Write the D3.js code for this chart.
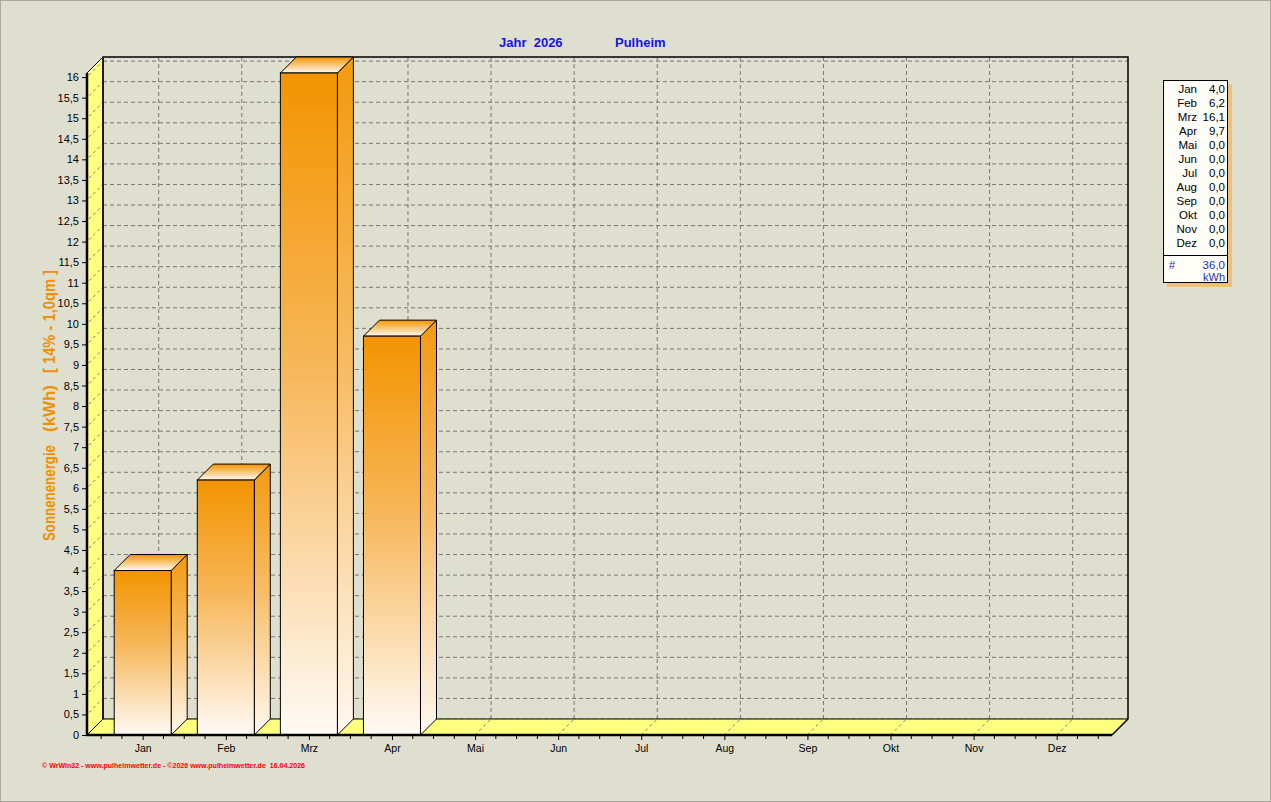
<!DOCTYPE html>
<html><head><meta charset="utf-8">
<script src="https://cdn.jsdelivr.net/npm/d3@7"></script>
<style>
html,body{margin:0;padding:0;background:#dfdfd0;}
svg{display:block;font-family:"Liberation Sans",Arial,sans-serif;}
</style></head>
<body>
<svg id="chart" width="1271" height="802"></svg>
<script>
// ---- data ----
const months = ["Jan","Feb","Mrz","Apr","Mai","Jun","Jul","Aug","Sep","Okt","Nov","Dez"];
const values = [4.0, 6.2, 16.1, 9.7, 0, 0, 0, 0, 0, 0, 0, 0];
const totalValue = 36.0;
const yTickValues = [0,0.5,1,1.5,2,2.5,3,3.5,4,4.5,5,5.5,6,6.5,7,7.5,8,8.5,9,9.5,10,10.5,11,11.5,12,12.5,13,13.5,14,14.5,15,15.5,16];
const titleYear = "Jahr  2026";
const titleCity = "Pulheim";
const yTitleParts = ["Sonnenenergie", "(kWh)", "[ 14% - 1,0qm ]"];
const unitLabel = "kWh";
const footerText = "\u00A9 WrWin32 - www.pulheimwetter.de - \u00A92026 www.pulheimwetter.de  16.04.2026";

// ---- layout ----
const svg = d3.select("#chart");
const W = 1271, H = 802;
const X0 = 87, X1 = 1112, D = 16;
const x = d3.scalePoint().domain(months).range([142.7, 1056.7]);
const y = d3.scaleLinear().domain([0, 16.1]).range([735, 73]);
const fmt = v => String(+v.toFixed(1)).replace(".", ",");
const fmt1 = v => v.toFixed(1).replace(".", ",");
const Y0 = y(0), YT = y(16.1);
const barW = 57;

svg.append("rect").attr("x",0.5).attr("y",0.5).attr("width",W-1).attr("height",H-1)
  .attr("fill","#dfdfd0").attr("stroke","#a9a99e");

const defs = svg.append("defs");
function grad(id, stops){
  const g = defs.append("linearGradient").attr("id",id).attr("x1",0).attr("y1",0).attr("x2",0).attr("y2",1);
  stops.forEach(s => g.append("stop").attr("offset",s[0]).attr("stop-color",s[1]));
}
grad("gFront", [[0,"#f39400"],[0.45,"#f7b75a"],[1,"#fffaf5"]]);
grad("gSide", [[0,"#f39a10"],[0.45,"#f7bb62"],[1,"#fff8f0"]]);
grad("gTop", [[0,"#f39400"],[1,"#fffaf5"]]);

const dash = "4,3";
const grid = svg.append("g");
grid.selectAll("line.h").data(yTickValues).join("line")
  .attr("x1", X0+D).attr("x2", X1+D).attr("y1", d=>y(d)-D).attr("y2", d=>y(d)-D)
  .attr("stroke","#767676").attr("stroke-dasharray",dash);
grid.selectAll("line.v").data(months).join("line")
  .attr("x1", d=>x(d)+D).attr("x2", d=>x(d)+D).attr("y1", YT-D).attr("y2", Y0-D)
  .attr("stroke","#767676").attr("stroke-dasharray",dash);

// left wall
svg.append("polygon")
  .attr("points", [[X0,Y0],[X0,YT],[X0+D,YT-D],[X0+D,Y0-D]].join(" "))
  .attr("fill","#ffff80").attr("stroke","#000").attr("stroke-width",1);
svg.append("g").selectAll("line").data(yTickValues.filter(d=>d>0)).join("line")
  .attr("x1",X0+2).attr("y1",d=>y(d)-2).attr("x2",X0+D).attr("y2",d=>y(d)-D)
  .attr("stroke","#7d7d7d").attr("stroke-dasharray","3,3");

// floor
svg.append("polygon")
  .attr("points", [[X0,Y0],[X1,Y0],[X1+D,Y0-D],[X0+D,Y0-D]].join(" "))
  .attr("fill","#ffff80").attr("stroke","#000").attr("stroke-width",1);
svg.append("g").selectAll("line").data(months).join("line")
  .attr("x1",d=>x(d)).attr("y1",Y0).attr("x2",d=>x(d)+D).attr("y2",Y0-D)
  .attr("stroke","#7d7d7d").attr("stroke-dasharray","3,3");

// back frame
svg.append("path")
  .attr("d", `M${X0+D},${Y0-D}V${YT-D}H${X1+D}V${Y0-D}L${X1},${Y0}`)
  .attr("fill","none").attr("stroke","#000").attr("stroke-width",1.5);

// bars
const bars = svg.append("g").selectAll("g").data(months.map((m,i)=>({m, v:values[i]})).filter(d=>d.v>0)).join("g");
bars.append("polygon").attr("points", d=>{
  const xl = x(d.m)-barW/2, xr = xl+barW, yt = y(d.v);
  return [[xr,yt],[xr+D,yt-D],[xr+D,Y0-D],[xr,Y0]].join(" ");
}).attr("fill","url(#gSide)").attr("stroke","#000").attr("stroke-width",1);
bars.append("polygon").attr("points", d=>{
  const xl = x(d.m)-barW/2, xr = xl+barW, yt = y(d.v);
  return [[xl,yt],[xl+D,yt-D],[xr+D,yt-D],[xr,yt]].join(" ");
}).attr("fill","url(#gTop)").attr("stroke","#000").attr("stroke-width",1);
bars.append("rect")
  .attr("x", d=>x(d.m)-barW/2).attr("y", d=>y(d.v)).attr("width",barW).attr("height",d=>Y0-y(d.v))
  .attr("fill","url(#gFront)").attr("stroke","#000").attr("stroke-width",1);

// front axis lines
svg.append("line").attr("x1",X0).attr("x2",X0).attr("y1",YT).attr("y2",Y0+1)
  .attr("stroke","#000").attr("stroke-width",2.5);
svg.append("line").attr("x1",X0-1).attr("x2",X1).attr("y1",Y0).attr("y2",Y0)
  .attr("stroke","#000").attr("stroke-width",2.5);

// y axis
const yAxis = d3.axisLeft(y).tickValues(yTickValues).tickFormat(fmt).tickSize(4).tickPadding(3).tickSizeOuter(0);
const gy = svg.append("g").attr("transform",`translate(${X0-1},0)`).call(yAxis);
gy.select(".domain").remove();
gy.selectAll("text").attr("font-size",11).attr("font-family","Liberation Sans, Arial, sans-serif").attr("fill","#000");

// x axis
const xAxis = d3.axisBottom(x).tickSize(4).tickPadding(5).tickSizeOuter(0);
const gx = svg.append("g").attr("transform",`translate(0,${Y0+1})`).call(xAxis);
gx.select(".domain").remove();
gx.selectAll("text").attr("font-size",10.5).attr("font-family","Liberation Sans, Arial, sans-serif").attr("fill","#000");
const st = x.step()/4;
const minor = d3.range(-2, 11*4+3).map(k => x(months[0]) + k*st).filter(p => p > X0+2 && p < X1 && (Math.round((p - x(months[0]))/st) % 4 !== 0));
svg.append("g").selectAll("line").data(minor).join("line")
  .attr("x1",d=>d).attr("x2",d=>d).attr("y1",Y0+1).attr("y2",Y0+4).attr("stroke","#000");

// title
svg.append("text").attr("x",499).attr("y",47).attr("font-size",13).attr("font-weight","bold")
  .attr("fill","#1414e6").style("white-space","pre").text(titleYear);
svg.append("text").attr("x",615).attr("y",47).attr("font-size",13).attr("font-weight","bold")
  .attr("fill","#1414e6").text(titleCity);

// y title
const yStarts = [541, 432, 373];
const yLens = [96, 47, 103];
yTitleParts.forEach((t,i)=>{
  svg.append("text").attr("transform",`translate(55,${yStarts[i]}) rotate(-90)`)
    .attr("font-size",16).attr("font-weight","bold").attr("fill","#f09000")
    .attr("textLength",yLens[i]).attr("lengthAdjust","spacingAndGlyphs")
    .style("white-space","pre").text(t);
});

// legend
const lg = svg.append("g");
lg.append("rect").attr("x",1167).attr("y",84).attr("width",65).attr("height",203).attr("fill","#f2b868").attr("opacity",0.8);
lg.append("rect").attr("x",1163.5).attr("y",80.5).attr("width",64).attr("height",202).attr("fill","#fffdf8").attr("stroke","#000");
months.forEach((m,i)=>{
  const yy = 93 + i*14;
  lg.append("text").attr("x",1197).attr("y",yy).attr("text-anchor","end").attr("font-size",11.5).attr("fill","#000").text(m);
  lg.append("text").attr("x",1225).attr("y",yy).attr("text-anchor","end").attr("font-size",11.5).attr("fill","#000").text(fmt1(values[i]));
});
lg.append("line").attr("x1",1164).attr("x2",1227).attr("y1",255.5).attr("y2",255.5).attr("stroke","#000");
lg.append("text").attr("x",1169).attr("y",269).attr("font-size",11).attr("fill","#1f2fb0").text("#");
lg.append("text").attr("x",1225).attr("y",269).attr("text-anchor","end").attr("font-size",11.5).attr("fill","#1f2fb0").text(fmt1(totalValue));
lg.append("text").attr("x",1225).attr("y",281).attr("text-anchor","end").attr("font-size",11).attr("fill","#1f2fb0").text(unitLabel);

// footer
svg.append("text").attr("x",42).attr("y",768).attr("font-size",7).attr("font-weight","bold").attr("fill","#ff0000")
  .attr("textLength",263).attr("lengthAdjust","spacingAndGlyphs").style("white-space","pre").text(footerText);
</script>
</body></html>
